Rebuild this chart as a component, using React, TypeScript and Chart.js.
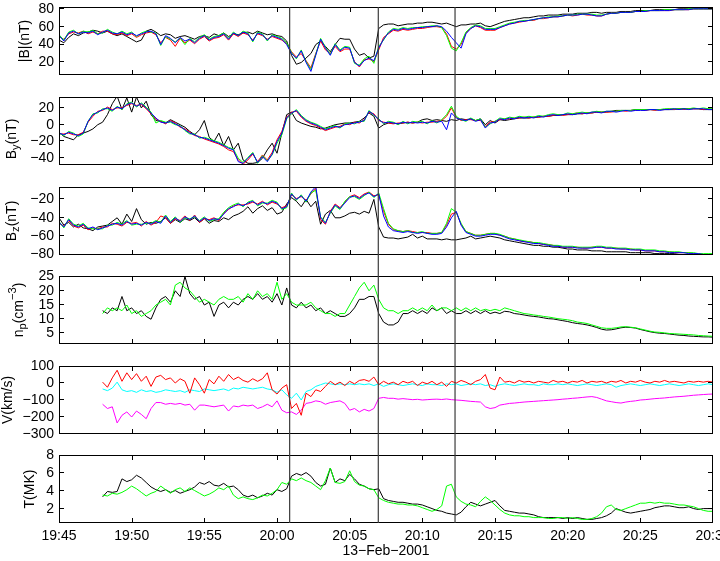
import React, { useEffect, useRef } from "react";
import { Chart, registerables } from "chart.js";

Chart.register(...registerables);

// ---------- time base: minutes after 19:45, one sample every 20 s ----------
const STEP_MIN = 1 / 3;
const B_START_MIN = 0;
const PLASMA_START_MIN = 3;

const X_TICK_MIN = [0, 5, 10, 15, 20, 25, 30, 35, 40, 45];
const X_TICK_LABELS = ["19:45", "19:50", "19:55", "20:00", "20:05", "20:10", "20:15", "20:20", "20:25", "20:30"];
const X_TITLE = "13\u2212Feb\u22122001";
const EVENT_MIN = [15.87, 21.97, 27.25];

const BT_TICKS = [20, 40, 60, 80];
const BY_TICKS = [-40, -20, 0, 20];
const BZ_TICKS = [-80, -60, -40, -20];
const NP_TICKS = [5, 10, 15, 20, 25];
const V_TICKS = [-300, -200, -100, 0, 100];
const T_TICKS = [2, 4, 6, 8];

// ---------- |B| (nT) ----------
const BT_C1 = [
  45, 42, 48, 52, 50, 53, 54, 56, 55, 53, 55, 52, 50, 52, 49,
  46, 43, 45, 55, 57, 54, 50, 52, 51, 47, 49, 50, 48, 46, 49,
  50, 48, 52, 50, 53, 49, 52, 51, 53, 54, 52, 55, 53, 51, 52,
  50, 49, 44, 28, 18, 20, 25, 30, 40, 44, 38, 32, 40, 47, 46,
  46, 35, 28, 30, 25, 27, 58, 62, 63, 63, 61, 62, 63, 63, 64,
  64, 65, 65, 64, 63, 64, 62, 60, 62, 62, 63, 63, 64, 61, 60,
  62, 64, 66, 67, 68, 69, 70, 70, 71, 72, 72, 73, 73, 73, 74,
  74, 74, 75, 75, 75, 76, 76, 75, 76, 76, 76, 77, 77, 77, 78,
  78, 78, 78, 79, 79, 79, 79, 79, 80, 80, 80, 80, 80, 80, 80,
  80,
];
const BT_C2 = [
  49, 46, 52, 54, 53, 55, 52, 54, 52, 55, 55, 52, 51, 53, 50,
  52, 48, 51, 53, 54, 51, 42, 48, 45, 38, 47, 42, 45, 41, 46,
  49, 44, 47, 48, 51, 45, 52, 49, 53, 51, 45, 52, 50, 46, 49,
  47, 45, 41, 32, 26, 30, 22, 14, 30, 44, 34, 30, 38, 32, 35,
  35, 21, 15, 23, 24, 21, 34, 48, 52, 56, 55, 57, 56, 57, 58,
  58, 59, 60, 60, 59, 52, 38, 35, 40, 53, 58, 61, 59, 56, 56,
  56, 59, 61, 63, 64, 65, 66, 67, 67, 69, 69, 70, 71, 71, 72,
  73, 72, 73, 74, 73, 73, 72, 72, 74, 75, 75, 76, 76, 76, 77,
  77, 77, 78, 78, 78, 78, 78, 79, 79, 79, 79, 80, 80, 80, 80,
  80,
];
const BT_C3 = [
  51, 45, 54, 56, 52, 55, 54, 56, 52, 53, 57, 54, 52, 55, 52,
  54, 49, 53, 55, 54, 53, 39, 49, 46, 43, 47, 40, 47, 43, 48,
  51, 46, 49, 50, 53, 47, 54, 50, 55, 53, 43, 54, 52, 44, 51,
  49, 47, 42, 31, 24, 34, 21, 12, 29, 47, 37, 29, 41, 34, 38,
  37, 19, 17, 24, 27, 19, 38, 45, 54, 58, 57, 59, 58, 59, 59,
  60, 60, 61, 61, 59, 50, 36, 33, 42, 54, 59, 62, 61, 58, 58,
  58, 60, 62, 64, 65, 66, 67, 67, 68, 69, 70, 71, 71, 72, 72,
  73, 73, 74, 74, 74, 74, 73, 73, 74, 75, 75, 76, 76, 76, 77,
  77, 78, 78, 78, 78, 79, 79, 79, 79, 79, 80, 80, 80, 80, 80,
  80,
];
const BT_C4 = [
  50, 44, 53, 55, 52, 54, 53, 55, 51, 54, 56, 53, 52, 54, 51,
  53, 50, 52, 54, 55, 52, 40, 50, 47, 42, 48, 44, 46, 42, 47,
  50, 45, 48, 49, 52, 46, 53, 50, 54, 52, 44, 53, 51, 45, 50,
  48, 46, 40, 30, 25, 33, 20, 10, 28, 46, 36, 28, 40, 33, 37,
  36, 20, 16, 22, 25, 22, 36, 46, 53, 57, 56, 58, 57, 58, 59,
  59, 60, 60, 61, 60, 55, 48, 42, 36, 52, 58, 61, 60, 57, 57,
  57, 59, 61, 63, 64, 66, 66, 67, 68, 69, 70, 70, 71, 71, 72,
  73, 73, 73, 74, 74, 73, 72, 72, 74, 75, 75, 76, 76, 76, 77,
  77, 77, 78, 78, 78, 78, 78, 79, 79, 79, 79, 80, 80, 80, 80,
  80,
];

// ---------- By (nT) ----------
const BY_C1 = [
  -9, -14, -16, -18, -12, -10, -8, -5, 0, 3, 12, 25, 34, 18, 32,
  15, 33, 20, 28, 12, 5, 4, 2, 6, 3, 0, -3, -8, -12, -6,
  5, -15, -20, -10, -25, -14, -30, -22, -42, -46, -46, -45, -40, -30, -22,
  -34, -10, 12, 15, 5, 2, 0, -2, -3, -5, -4, -2, 0, 1, 2,
  2, 3, 4, 8, 14, 10, -4, 0, 2, 2, 1, 2, 3, 2, 3,
  6, 7, 5, 6, 5, 4, 6, 5, 7, 6, 7, 5, 7, 0, 5,
  2, 6, 5, 6, 7, 8, 8, 8, 9, 9, 10, 10, 11, 11, 12,
  12, 12, 13, 13, 14, 14, 15, 15, 15, 16, 17, 17, 17, 17, 18,
  18, 18, 18, 18, 18, 18, 18, 18, 19, 19, 19, 19, 19, 18, 18,
  18,
];
const BY_C2 = [
  -11, -11, -10, -12, -12, -9, 3, 10, 16, 17, 21, 18, 20, 20, 23,
  25, 23, 24, 19, 13, 7, 4, 1, 5, 2, -3, -5, -9, -13, -14,
  -17, -19, -21, -23, -26, -30, -32, -42, -47, -42, -35, -44, -36, -42, -33,
  -18, -8, 9, 15, 16, 9, 4, 1, -1, -4, -7, -5, -3, -2, 1,
  0, 3, 2, 6, 15, 13, 5, 3, 2, 1, 2, 2, 3, 2, 3,
  2, 3, 3, 4, 5, 10, 20, 9, 5, 6, 6, 5, 5, -2, 3,
  4, 6, 7, 7, 8, 8, 9, 8, 9, 9, 10, 10, 11, 12, 11,
  12, 13, 14, 13, 14, 14, 15, 15, 15, 15, 16, 17, 16, 17, 17,
  18, 17, 18, 17, 18, 18, 19, 18, 19, 18, 19, 19, 19, 18, 19,
  18,
];
const BY_C3 = [
  -10, -13, -8, -10, -14, -11, 4, 13, 14, 19, 19, 16, 22, 18, 25,
  27, 21, 26, 21, 15, 2, 5, 3, 3, 0, -1, -7, -11, -11, -16,
  -15, -17, -19, -21, -24, -27, -29, -40, -45, -39, -33, -46, -37, -43, -36,
  -22, -12, 7, 13, 18, 11, 6, 3, 1, -2, -5, -3, -1, -4, 1,
  2, 1, 4, 4, 17, 11, 7, 1, 4, 3, 0, 4, 1, 4, 3,
  4, 1, 5, 2, 6, 12, 22, 10, 6, 4, 8, 5, 7, -3, 1,
  4, 8, 7, 9, 8, 10, 9, 10, 9, 11, 10, 12, 13, 12, 12,
  14, 13, 14, 15, 14, 15, 16, 15, 16, 16, 16, 17, 17, 17, 18,
  18, 18, 18, 18, 18, 19, 19, 19, 19, 19, 19, 20, 19, 20, 19,
  19,
];
const BY_C4 = [
  -10, -12, -9, -11, -13, -10, 4, 12, 15, 18, 20, 17, 21, 19, 24,
  26, 22, 25, 20, 14, 8, 3, 2, 4, 1, -2, -6, -10, -12, -15,
  -16, -18, -20, -22, -25, -28, -30, -44, -46, -40, -34, -45, -38, -44, -35,
  -20, -10, 8, 14, 17, 10, 5, 2, 0, -3, -6, -4, -2, -3, 0,
  1, 2, 3, 5, 16, 12, 6, 2, 3, 2, 1, 3, 2, 3, 2,
  3, 2, 4, 3, 4, -6, 14, 8, 6, 5, 7, 4, 6, -4, 2,
  3, 7, 6, 8, 7, 9, 8, 9, 8, 10, 9, 11, 12, 11, 12,
  13, 12, 13, 14, 13, 15, 15, 14, 16, 16, 15, 16, 17, 16, 17,
  17, 17, 18, 18, 17, 18, 18, 19, 18, 19, 18, 19, 19, 19, 18,
  18,
];

// ---------- Bz (nT) ----------
const BZ_C1 = [
  -40, -48, -45, -50, -47, -51, -52, -54, -50, -49, -48, -44, -40, -47, -36,
  -44, -30, -42, -47, -45, -46, -44, -40, -46, -42, -45, -41, -43, -40, -45,
  -41, -46, -43, -44, -40, -42, -38, -36, -33, -28, -35, -30, -27, -32, -29,
  -36, -34, -25, -18, -22, -28, -20, -28, -22, -47, -36, -32, -40, -40, -38,
  -35, -34, -36, -33, -35, -20, -50, -61, -62, -62, -63, -62, -61, -58, -62,
  -60, -63, -63, -63, -64, -63, -64, -64, -63, -62, -60, -63, -62, -61, -60,
  -61, -62, -64, -65, -66, -67, -68, -69, -70, -70, -71, -71, -72, -72, -73,
  -74, -74, -75, -75, -75, -76, -76, -76, -77, -77, -77, -77, -77, -78, -78,
  -78, -78, -78, -79, -79, -79, -79, -79, -80, -80, -80, -80, -80, -80, -80,
  -80,
];
const BZ_C2 = [
  -46, -49, -43, -49, -51, -48, -53, -51, -52, -50, -50, -46, -47, -49, -45,
  -46, -45, -49, -44, -48, -45, -38, -40, -46, -41, -43, -38, -43, -37, -45,
  -41, -42, -40, -43, -35, -31, -27, -26, -26, -25, -23, -25, -22, -26, -23,
  -25, -29, -27, -15, -19, -17, -21, -14, -8, -42, -47, -33, -25, -29, -23,
  -17, -15, -18, -14, -12, -16, -15, -33, -47, -53, -54, -55, -54, -55, -56,
  -56, -56, -57, -57, -56, -48, -36, -34, -47, -55, -57, -59, -59, -58, -57,
  -57, -59, -60, -62, -63, -65, -66, -66, -67, -68, -69, -69, -70, -71, -72,
  -72, -72, -72, -73, -73, -72, -72, -72, -73, -73, -73, -74, -74, -74, -75,
  -75, -76, -76, -76, -77, -77, -77, -78, -78, -78, -78, -79, -79, -80, -80,
  -80,
];
const BZ_C3 = [
  -44, -51, -41, -47, -49, -46, -51, -52, -52, -52, -48, -48, -45, -47, -43,
  -48, -47, -47, -46, -46, -43, -45, -37, -44, -39, -45, -40, -41, -39, -43,
  -39, -44, -42, -41, -34, -29, -26, -24, -28, -23, -21, -27, -24, -24, -21,
  -23, -31, -29, -13, -21, -15, -23, -13, -10, -39, -45, -35, -27, -31, -22,
  -17, -17, -20, -16, -12, -18, -13, -30, -46, -52, -54, -55, -54, -56, -56,
  -55, -57, -57, -57, -56, -46, -30, -34, -46, -55, -57, -59, -59, -58, -57,
  -57, -58, -60, -62, -63, -64, -65, -66, -67, -67, -68, -69, -70, -70, -71,
  -71, -71, -72, -72, -72, -72, -71, -71, -72, -72, -73, -73, -73, -74, -74,
  -74, -75, -75, -75, -76, -76, -77, -77, -77, -78, -78, -78, -79, -79, -79,
  -79,
];
const BZ_C4 = [
  -45, -50, -42, -48, -50, -47, -52, -50, -53, -51, -49, -47, -46, -48, -44,
  -47, -46, -48, -45, -47, -44, -46, -38, -45, -40, -44, -39, -42, -38, -44,
  -40, -43, -41, -42, -36, -30, -28, -25, -27, -24, -22, -26, -23, -25, -22,
  -24, -30, -28, -14, -20, -16, -22, -12, -6, -40, -46, -34, -26, -30, -24,
  -18, -16, -19, -15, -13, -17, -14, -38, -50, -54, -55, -56, -55, -56, -57,
  -56, -57, -58, -58, -57, -50, -40, -33, -48, -56, -58, -60, -60, -59, -58,
  -58, -59, -61, -63, -64, -65, -66, -67, -68, -68, -69, -70, -71, -71, -72,
  -72, -72, -73, -73, -73, -73, -72, -72, -73, -73, -74, -74, -74, -75, -75,
  -75, -76, -76, -76, -77, -77, -78, -78, -78, -78, -79, -79, -79, -80, -80,
  -80,
];

// ---------- np (cm^-3), from 19:48 ----------
const NP_C1 = [
  13, 12, 14, 13, 18, 13,
  14, 12, 13, 11, 10, 14, 17, 18, 16, 20, 18, 25, 19, 17, 18,
  15, 16, 11, 15, 16, 14, 16, 15, 17, 18, 17, 19, 17, 18, 16,
  19, 15, 21, 15, 14, 16, 14, 15, 13, 14, 12, 13, 12, 11, 11,
  12, 14, 17, 17, 18, 18, 12, 9, 8, 8, 9, 12, 12, 13, 12,
  13, 12, 14, 13, 14, 12, 13, 12, 12, 13, 12, 13, 12, 13, 12,
  12.5, 12, 12.8, 12.6, 12, 11.8, 11.5, 11.2, 11, 10.8, 10.5, 10.2, 10.1, 9.8, 9.5,
  9.2, 8.8, 8.5, 8.3, 8, 7.6, 7.1, 6.5, 6.2, 6.3, 6.6, 7, 7.2, 7.1, 6.9,
  6.4, 6, 5.6, 5.3, 5.1, 5, 4.8, 4.6, 4.4, 4.3, 4.1, 4, 3.9, 3.8, 3.8,
  3.7,
];
const NP_C3 = [
  12, 14, 13, 14, 13, 15,
  12, 13, 11, 12, 13, 15, 16, 17, 15, 22, 23, 21, 20, 18, 16,
  17, 16, 15, 17, 18, 17, 17, 18, 16, 19, 17, 20, 18, 19, 17,
  23, 17, 19, 16, 15, 15, 15, 16, 14, 13, 12, 12, 11, 12, 12,
  15, 18, 21, 23, 20, 22, 17, 14, 13, 13, 12, 13, 13, 14, 13,
  14, 13, 15, 13, 14, 14, 13, 14, 13, 14, 13, 14, 13, 13.5, 13,
  13.5, 13, 14, 13.5, 13, 12.5, 12, 11.8, 11.5, 11.3, 11, 10.8, 10.5, 10.2, 10,
  9.8, 9.5, 9, 8.8, 8.5, 8, 7.5, 7, 6.8, 6.8, 7, 7.3, 7.4, 7.2, 7,
  6.6, 6.2, 5.8, 5.5, 5.4, 5.2, 5, 4.9, 4.8, 4.7, 4.6, 4.5, 4.3, 4.2, 4.1,
  4,
];

// ---------- V (km/s), from 19:48 ----------
const VX = [
  5, -25, 30, 75, 10, 60,
  20, 55, 10, 40, -20, 35, 45, 20, 30, 0, 25, 10, -60, 30, -10,
  -60, 20, -5, 40, 10, 50, 20, 35, 15, 5, 25, 10, 25, 60, -40,
  -65, -30, -10, -150, -120, -190, -60, -80, -40, -50, -20, 10, -10, 5, -15,
  10, -5, 15, 20, 10, 35, -10, 10, -5, 5, -10, 10, 0, 10, -15,
  5, -5, 10, -10, 5, -20, 10, 0, 15, 5, -10, 10, 20, 50, -30,
  -40, 35, 5, 10, 0, 15, 5, 10, 0, 10, 5, 0, 15, 5, 10,
  0, 10, 5, 15, 0, 10, 5, 10, 0, 10, 5, 15, 0, 10, 5,
  15, 5, 0, 10, 5, 15, 5, 10, 5, 0, 10, 5, 10, 5, 10,
  5,
];
const VY = [
  -35, -45, -30, 5, -40, -50,
  -45, -55, -40, -50, -45, -55, -50, -40, -45, -50, -45, -55, -40, -45, -50,
  -35, -40, -45, -40, -35, -45, -30, -35, -25, -30, -35, -30, -25, -35, -40,
  -55, -40, -70, -90, -60, -100, -50, -40, -20, -10, 0, -5, -10, -5, -10,
  -5, -10, -5, -10, -5, -15, -5, -20, -10, -5, -10, -15, -10, -5, -10,
  -15, -5, -10, -10, -15, -5, -10, -5, -15, -10, -5, -10, -5, -15, -10,
  -20, -10, -5, -10, -15, -10, -5, -10, -10, -15, -5, -10, -10, -5, -10,
  -5, -10, -15, -10, -5, -10, -15, -10, -5, -10, -25, -15, -10, -5, -10,
  -15, -10, -5, -10, -15, -10, -5, -10, -15, -10, -5, -10, -15, -10, -5,
  -10,
];
const VZ = [
  -125, -150, -140, -235, -190, -170,
  -200, -165, -185, -210, -150, -115, -115, -125, -120, -125, -120, -130, -125, -160, -130,
  -130, -135, -140, -135, -130, -165, -135, -140, -130, -135, -130, -150, -140, -125, -140,
  -105, -160, -175, -170, -185, -160, -120, -115, -105, -110, -125, -115, -110, -105, -120,
  -160, -150, -170, -155, -165, -150, -90, -85, -90, -90, -95, -92, -95, -98, -96,
  -100, -98, -96, -95, -97, -94, -98, -100, -102, -105, -108, -110, -112, -140, -150,
  -145, -130, -125, -120, -118, -115, -112, -110, -108, -106, -104, -102, -100, -98, -95,
  -93, -90, -88, -85, -82, -80, -85, -95, -105, -110, -115, -118, -112, -108, -105,
  -100, -98, -95, -92, -90, -88, -85, -82, -80, -78, -75, -72, -70, -68, -66,
  -65,
];

// ---------- T (MK), from 19:48 ----------
const T_C1 = [
  3.4, 4.0, 3.9, 4.0, 5.4, 5.1,
  5.3, 5.8, 5.5, 5.0, 4.5, 4.2, 4.0, 4.2, 3.9, 4.1, 3.8, 4.0, 4.2, 4.5, 5.0,
  4.8, 5.1, 4.7, 4.6, 4.9, 4.5, 4.6, 4.2, 3.6, 3.4, 3.6, 3.3, 3.5, 3.8, 3.6,
  4.2, 4.0, 4.3, 5.7, 6.0, 5.8, 6.1, 5.7, 5.0, 4.6, 4.8, 6.6, 5.0, 5.4, 5.2,
  5.9, 5.4, 4.8, 4.6, 4.3, 4.2, 4.3, 3.2, 3.0, 2.9, 2.8, 2.8, 2.7, 2.6, 2.6,
  2.5, 2.3, 2.1, 1.9, 1.8, 1.6, 1.5, 1.4, 1.7, 2.3, 2.8, 2.6, 2.4, 2.6, 2.8,
  3.0, 2.4, 1.9, 1.8, 1.7, 1.6, 1.6, 1.5, 1.4, 1.2, 1.1, 1.1, 1.1, 1.1, 1.0,
  1.1, 1.0, 1.1, 1.0, 0.9, 0.9, 1.0, 1.1, 1.3, 1.6, 2.1, 1.9, 1.7, 1.6, 1.7,
  1.8, 1.9, 2.0, 2.2, 2.3, 2.4, 2.4, 2.3, 2.2, 2.2, 2.3, 2.1, 2.0, 2.1, 2.1,
  2.1,
];
const T_C3 = [
  3.6, 3.5, 3.8, 3.7, 3.9, 4.2,
  4.6, 4.3, 3.9, 3.5, 3.8, 4.0, 4.6, 4.2, 3.8, 4.2, 4.4, 4.0, 4.4, 4.1, 3.8,
  3.5, 3.7, 4.0, 4.4, 4.2, 4.6, 3.6, 3.2, 3.4, 3.2, 3.1, 3.3, 3.6, 3.5, 3.8,
  4.2, 5.0, 4.8, 5.4, 5.2, 5.5, 5.2, 5.0, 4.6, 4.2, 5.2, 6.6, 5.0, 4.9, 5.1,
  6.3, 5.1, 4.7, 4.6, 4.3, 4.2, 3.3, 3.0, 2.8, 2.7, 2.6, 2.6, 2.5, 2.5, 2.4,
  2.2, 2.0, 1.8, 2.0, 2.4, 4.6, 4.8, 3.4, 2.9, 2.6, 2.5, 2.3, 2.9, 3.4, 3.0,
  2.5, 2.0, 1.6, 1.4, 1.3, 1.3, 1.2, 1.2, 1.1, 1.1, 1.1, 1.0, 1.0, 1.1, 1.1,
  1.0, 1.1, 1.0, 0.9, 0.9, 1.0, 1.2, 1.6, 2.3, 2.5, 2.0, 1.9, 2.1, 2.3, 2.5,
  2.7, 2.7, 2.8, 2.7, 2.8, 2.7, 2.7, 2.6, 2.5, 2.5, 2.4, 2.3, 2.1, 1.9, 1.8,
  1.8,
];

// ---------- styling / layout ----------
const BLACK = "#000000";
const RED = "#ff0000";
const GREEN = "#00ff00";
const BLUE = "#0000ff";
const CYAN = "#00ffff";
const MAGENTA = "#ff00ff";

const FONT = '"Liberation Sans", Arial, Helvetica, sans-serif';
const FS = 14;
const W = 720;
const H = 561;
const PLOT_LEFT = 59;
const PLOT_RIGHT = 713;
const PANEL_TOP = [7, 97, 187, 276, 366, 455];
const PANEL_H = 68;

type Seg = { t: string; sub?: boolean; sup?: boolean };
type Series = { data: number[]; color: string; start: number };
type PanelDef = {
  min: number;
  max: number;
  ticks: number[];
  title: Seg[];
  titleX: number;
  titleDY: number;
  series: Series[];
};

const PANELS: PanelDef[] = [
  {
    min: 6, max: 82, ticks: BT_TICKS, title: [{ t: "|B|(nT)" }], titleX: 29, titleDY: 0,
    series: [
      { data: BT_C4, color: BLUE, start: B_START_MIN },
      { data: BT_C3, color: GREEN, start: B_START_MIN },
      { data: BT_C2, color: RED, start: B_START_MIN },
      { data: BT_C1, color: BLACK, start: B_START_MIN },
    ],
  },
  {
    min: -48, max: 33, ticks: BY_TICKS, title: [{ t: "B" }, { t: "y", sub: true }, { t: "(nT)" }], titleX: 15.5, titleDY: 8,
    series: [
      { data: BY_C4, color: BLUE, start: B_START_MIN },
      { data: BY_C3, color: GREEN, start: B_START_MIN },
      { data: BY_C2, color: RED, start: B_START_MIN },
      { data: BY_C1, color: BLACK, start: B_START_MIN },
    ],
  },
  {
    min: -80.5, max: -6.5, ticks: BZ_TICKS, title: [{ t: "B" }, { t: "z", sub: true }, { t: "(nT)" }], titleX: 15.5, titleDY: 0,
    series: [
      { data: BZ_C4, color: BLUE, start: B_START_MIN },
      { data: BZ_C3, color: GREEN, start: B_START_MIN },
      { data: BZ_C2, color: RED, start: B_START_MIN },
      { data: BZ_C1, color: BLACK, start: B_START_MIN },
    ],
  },
  {
    min: 1.3, max: 25.2, ticks: NP_TICKS,
    title: [{ t: "n" }, { t: "p", sub: true }, { t: "(cm" }, { t: "\u22123", sup: true }, { t: ")" }],
    titleX: 23.3, titleDY: 0,
    series: [
      { data: NP_C3, color: GREEN, start: PLASMA_START_MIN },
      { data: NP_C1, color: BLACK, start: PLASMA_START_MIN },
    ],
  },
  {
    min: -300, max: 100, ticks: V_TICKS, title: [{ t: "V(km/s)" }], titleX: 12, titleDY: 0,
    series: [
      { data: VX, color: RED, start: PLASMA_START_MIN },
      { data: VY, color: CYAN, start: PLASMA_START_MIN },
      { data: VZ, color: MAGENTA, start: PLASMA_START_MIN },
    ],
  },
  {
    min: 0.5, max: 8.05, ticks: T_TICKS, title: [{ t: "T(MK)" }], titleX: 34, titleDY: 0,
    series: [
      { data: T_C3, color: GREEN, start: PLASMA_START_MIN },
      { data: T_C1, color: BLACK, start: PLASMA_START_MIN },
    ],
  },
];

const fmtNum = (v: number) => (v < 0 ? "\u2212" + Math.abs(v) : String(v));

function canvasBox(i: number) {
  const top = i === 0 ? 0 : PANEL_TOP[i] - 8;
  const bottom = i < PANEL_TOP.length - 1 ? PANEL_TOP[i + 1] - 8 : H;
  return { top, height: bottom - top, padTop: PANEL_TOP[i] - top };
}

function drawVerticalRich(ctx: CanvasRenderingContext2D, segs: Seg[], xBase: number, yCenter: number) {
  const items = segs.map((s) => {
    const size = s.sub || s.sup ? FS * 0.8 : FS;
    ctx.font = `${size}px ${FONT}`;
    return { ...s, size, w: ctx.measureText(s.t).width };
  });
  const total = items.reduce((a, b) => a + b.w, 0);
  ctx.save();
  ctx.translate(xBase, yCenter);
  ctx.rotate(-Math.PI / 2);
  ctx.fillStyle = "#000";
  ctx.textAlign = "left";
  ctx.textBaseline = "alphabetic";
  let x = -total / 2;
  for (const it of items) {
    ctx.font = `${it.size}px ${FONT}`;
    const dy = it.sub ? FS * 0.22 : it.sup ? -FS * 0.55 : 0;
    ctx.fillText(it.t, x, dy);
    x += it.w;
  }
  ctx.restore();
}

function makeFramePlugin(idx: number, panel: PanelDef) {
  return {
    id: "frame" + idx,
    afterDraw(chart: any) {
      const ctx: CanvasRenderingContext2D = chart.ctx;
      const a = chart.chartArea;
      const xs = chart.scales.x;
      const ys = chart.scales.y;
      ctx.save();
      // box
      ctx.strokeStyle = "#000";
      ctx.lineWidth = 1;
      ctx.strokeRect(a.left + 0.5, a.top + 0.5, a.right - a.left - 1, a.bottom - a.top - 1);
      // inward ticks
      const TL = 5;
      ctx.beginPath();
      for (const v of X_TICK_MIN) {
        const px = Math.round(xs.getPixelForValue(v)) + 0.5;
        if (px <= a.left + 1 || px >= a.right - 1) continue;
        ctx.moveTo(px, a.top);
        ctx.lineTo(px, a.top + TL);
        ctx.moveTo(px, a.bottom);
        ctx.lineTo(px, a.bottom - TL);
      }
      for (const v of panel.ticks) {
        const py = Math.round(ys.getPixelForValue(v)) - 0.5;
        if (py <= a.top + 1 || py >= a.bottom - 1) continue;
        ctx.moveTo(a.left, py);
        ctx.lineTo(a.left + TL, py);
        ctx.moveTo(a.right, py);
        ctx.lineTo(a.right - TL, py);
      }
      ctx.stroke();
      // event lines spanning all panels
      ctx.strokeStyle = "#3c3c3c";
      ctx.lineWidth = 1.2;
      const y0 = idx === 0 ? a.top : 0;
      const y1 = idx === PANELS.length - 1 ? a.bottom : chart.height;
      for (const t of EVENT_MIN) {
        const px = xs.getPixelForValue(t);
        ctx.beginPath();
        ctx.moveTo(px, y0);
        ctx.lineTo(px, y1);
        ctx.stroke();
      }
      // y axis title
      drawVerticalRich(ctx, panel.title, panel.titleX, (a.top + a.bottom) / 2 + panel.titleDY);
      ctx.restore();
    },
  };
}

function buildConfig(idx: number, panel: PanelDef): any {
  const box = canvasBox(idx);
  const last = idx === PANELS.length - 1;
  const xAxisH = last ? box.height - box.padTop - PANEL_H : 0;
  const padBottom = last ? 0 : box.height - box.padTop - PANEL_H;
  const xScale: any = {
    type: "linear",
    min: 0,
    max: 45,
  };
  if (last) {
    Object.assign(xScale, {
      display: true,
      afterBuildTicks: (s: any) => {
        s.ticks = X_TICK_MIN.map((v) => ({ value: v }));
      },
      afterFit: (s: any) => {
        s.height = xAxisH;
        s.paddingLeft = 0;
        s.paddingRight = 0;
      },
      grid: { display: false, drawTicks: false, tickLength: 0 },
      border: { display: false },
      ticks: {
        autoSkip: false,
        maxRotation: 0,
        minRotation: 0,
        padding: 5,
        color: "#000",
        font: { family: FONT, size: FS },
        callback: (v: number) => {
          const k = X_TICK_MIN.indexOf(v);
          return k >= 0 ? X_TICK_LABELS[k] : "";
        },
      },
      title: {
        display: true,
        text: X_TITLE,
        color: "#000",
        font: { family: FONT, size: FS },
        padding: { top: 0, bottom: 1 },
      },
    });
  } else {
    xScale.display = false;
  }
  return {
    type: "line",
    data: {
      datasets: panel.series.map((s) => ({
        data: s.data.map((v, k) => ({ x: s.start + k * STEP_MIN, y: v })),
        borderColor: s.color,
        backgroundColor: s.color,
        borderWidth: 1,
        pointRadius: 0,
        pointHoverRadius: 0,
        tension: 0,
        fill: false,
      })),
    },
    options: {
      responsive: false,
      maintainAspectRatio: false,
      animation: false,
      events: [],
      devicePixelRatio: 1,
      layout: {
        autoPadding: false,
        padding: { left: 0, right: W - PLOT_RIGHT, top: box.padTop, bottom: padBottom },
      },
      plugins: { legend: { display: false }, tooltip: { enabled: false }, title: { display: false } },
      scales: {
        x: xScale,
        y: {
          type: "linear",
          min: panel.min,
          max: panel.max,
          afterBuildTicks: (s: any) => {
            s.ticks = panel.ticks.map((v) => ({ value: v }));
          },
          afterFit: (s: any) => {
            s.width = PLOT_LEFT;
            s.paddingTop = 0;
            s.paddingBottom = 0;
          },
          grid: { display: false, drawTicks: false, tickLength: 0 },
          border: { display: false },
          ticks: {
            autoSkip: false,
            padding: 5,
            color: "#000",
            font: { family: FONT, size: FS },
            callback: (v: number) => fmtNum(v),
          },
        },
      },
    },
    plugins: [makeFramePlugin(idx, panel)],
  };
}

export default function App() {
  const refs = useRef<(HTMLCanvasElement | null)[]>([]);

  useEffect(() => {
    const charts = PANELS.map((p, i) => {
      const c = refs.current[i];
      return c ? new Chart(c, buildConfig(i, p)) : null;
    });
    return () => {
      charts.forEach((c) => c && c.destroy());
    };
  }, []);

  return (
    <div style={{ position: "absolute", left: 0, top: 0, width: W, height: H, background: "#fff", overflow: "hidden" }}>
      {PANELS.map((_, i) => {
        const b = canvasBox(i);
        return (
          <canvas
            key={i}
            ref={(el) => {
              refs.current[i] = el;
            }}
            width={W}
            height={b.height}
            style={{ position: "absolute", left: 0, top: b.top, width: W, height: b.height, display: "block" }}
          />
        );
      })}
    </div>
  );
}
